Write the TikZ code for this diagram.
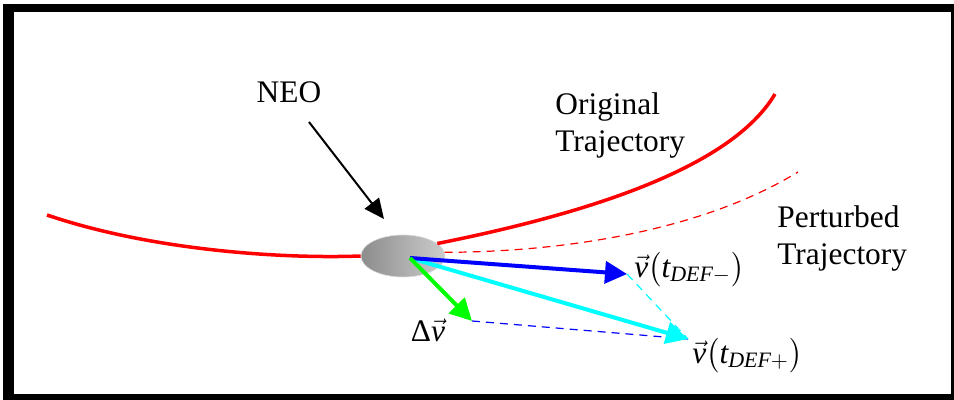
\documentclass[tikz,border=0pt]{standalone}
\usepackage{amsmath}
\usepackage{fontspec}
\setmainfont{Liberation Serif}
\usetikzlibrary{arrows.meta,shapes.geometric}
\definecolor{vcyan}{RGB}{0,255,255}
\definecolor{vgreen}{RGB}{0,255,0}
\definecolor{vblue}{RGB}{0,0,255}
\definecolor{vred}{RGB}{255,0,0}

\begin{document}
\begin{tikzpicture}[
				x=0.5pt, y=-0.5pt,
				lbl/.style={font=\rmfamily\fontsize{15.7}{18.5}\selectfont, inner sep=0pt, align=left},
				orbit/.style={vred, line width=1.75pt},
				vecarrow/.style={-{Triangle[length=11pt,width=11pt]}, line width=2pt},
				guide/.style={line width=0.6pt, dash pattern=on 4pt off 3pt}
				]
				\useasboundingbox (0,0) rectangle (954,400);
				\fill[black] (3,4) rectangle (954,400);
				\fill[white] (14,12) rectangle (951,394);
				
				\node[ellipse, minimum width=42pt, minimum height=21pt, inner sep=0pt,
					left color=black!45, right color=black!20, draw=black!15, line width=0.3pt] (neo) at (403,256) {};
				\coordinate (o) at (410,258);
				\coordinate (tipminus) at (627,274);
				\coordinate (tipplus) at (688,339);
				\coordinate (tipdv) at (472,321);
				\coordinate (neotail) at (309,122);
				\coordinate (neotip) at (384,219);
				
				\node[lbl] (neolabel) at (289,92) {NEO};
				\node[lbl, anchor=north west] (orig) at (555,92) {Original\\Trajectory};
				\node[lbl, anchor=north west] (pert) at (777,205) {Perturbed\\Trajectory};
				\node[lbl, anchor=west] (vminus) at (634,270) {$\vec{\textit{v}}\big(\textit{t}_{\textit{DEF}-}\big)$};
				\node[lbl, anchor=west] (vplus) at (692,356) {$\vec{\textit{v}}\big(\textit{t}_{\textit{DEF}+}\big)$};
				\node[lbl] (dv) at (428,330) {Δ$\vec{\textit{v}}$};
				
				\draw[orbit] (47,215) .. controls (150,250) and (280,259) .. (neo.west);
				\draw[orbit] (neo.20) .. controls (580,215) and (730,170) .. (775,94);
				\draw[vred, guide] (neo.5) .. controls (560,252) and (700,232) .. (798,172);
				
				\draw[vblue, guide] (tipdv) -- (tipplus);
				\draw[vcyan, guide] (tipminus) -- (tipplus);
				\draw[-{Triangle[length=10pt,width=9pt]}, line width=1pt] (neotail) -- (neotip);
				\draw[vecarrow, vcyan] (o) -- (tipplus);
				\draw[vecarrow, vblue] (o) -- (tipminus);
				\draw[vecarrow, vgreen] (o) -- (tipdv);
\end{tikzpicture}
\end{document}
